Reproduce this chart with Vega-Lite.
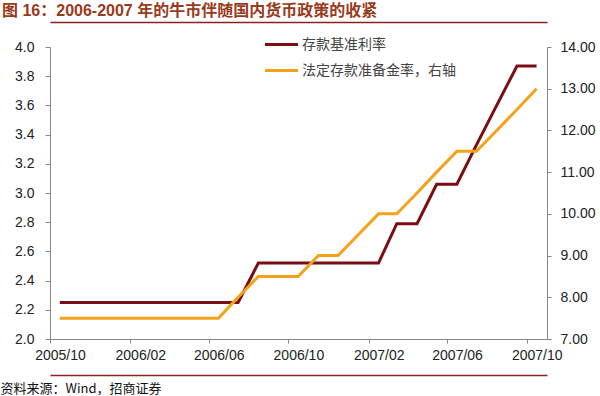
{
  "$schema": "https://vega.github.io/schema/vega-lite/v6.json",
  "width": 497,
  "height": 292,
  "autosize": {"type": "none"},
  "padding": {"left": 50, "top": 47, "right": 53, "bottom": 57},
  "background": "#ffffff",
  "title": {
    "text": "图 16：2006-2007 年的牛市伴随国内货币政策的收紧",
    "anchor": "start",
    "frame": "group",
    "dx": -48,
    "offset": 3,
    "font": "Liberation Sans, Noto Sans CJK SC",
    "fontSize": 16,
    "fontWeight": "bold",
    "color": "#9A3A1C"
  },
  "config": {
    "view": {"stroke": null},
    "axis": {
      "labelFont": "Liberation Sans",
      "labelFontSize": 14,
      "labelColor": "#222222",
      "domainColor": "#878787",
      "tickColor": "#878787",
      "grid": false
    }
  },
  "data": {
    "values": [
      {"date": "2005-10-16", "rate": 2.25, "rrr": 7.5},
      {"date": "2005-11-16", "rate": 2.25, "rrr": 7.5},
      {"date": "2005-12-16", "rate": 2.25, "rrr": 7.5},
      {"date": "2006-01-16", "rate": 2.25, "rrr": 7.5},
      {"date": "2006-02-16", "rate": 2.25, "rrr": 7.5},
      {"date": "2006-03-16", "rate": 2.25, "rrr": 7.5},
      {"date": "2006-04-16", "rate": 2.25, "rrr": 7.5},
      {"date": "2006-05-16", "rate": 2.25, "rrr": 7.5},
      {"date": "2006-06-16", "rate": 2.25, "rrr": 7.5},
      {"date": "2006-07-16", "rate": 2.25, "rrr": 8.0},
      {"date": "2006-08-16", "rate": 2.52, "rrr": 8.5},
      {"date": "2006-09-16", "rate": 2.52, "rrr": 8.5},
      {"date": "2006-10-16", "rate": 2.52, "rrr": 8.5},
      {"date": "2006-11-16", "rate": 2.52, "rrr": 9.0},
      {"date": "2006-12-16", "rate": 2.52, "rrr": 9.0},
      {"date": "2007-01-16", "rate": 2.52, "rrr": 9.5},
      {"date": "2007-02-16", "rate": 2.52, "rrr": 10.0},
      {"date": "2007-03-16", "rate": 2.79, "rrr": 10.0},
      {"date": "2007-04-16", "rate": 2.79, "rrr": 10.5},
      {"date": "2007-05-16", "rate": 3.06, "rrr": 11.0},
      {"date": "2007-06-16", "rate": 3.06, "rrr": 11.5},
      {"date": "2007-07-16", "rate": 3.33, "rrr": 11.5},
      {"date": "2007-08-16", "rate": 3.60, "rrr": 12.0},
      {"date": "2007-09-16", "rate": 3.87, "rrr": 12.5},
      {"date": "2007-10-16", "rate": 3.87, "rrr": 13.0}
    ]
  },
  "layer": [
    {
      "mark": {"type": "line", "strokeWidth": 3},
      "encoding": {
        "x": {
          "field": "date",
          "type": "temporal",
          "scale": {
            "type": "utc",
            "domain": [
              {"year": 2005, "month": 10, "date": 1, "utc": true},
              {"year": 2007, "month": 11, "date": 1, "utc": true}
            ]
          },
          "axis": {
            "orient": "bottom",
            "title": null,
            "values": [
              {"year": 2005, "month": 10, "date": 1, "utc": true},
              {"year": 2006, "month": 2, "date": 1, "utc": true},
              {"year": 2006, "month": 6, "date": 1, "utc": true},
              {"year": 2006, "month": 10, "date": 1, "utc": true},
              {"year": 2007, "month": 2, "date": 1, "utc": true},
              {"year": 2007, "month": 6, "date": 1, "utc": true},
              {"year": 2007, "month": 10, "date": 1, "utc": true}
            ],
            "labelExpr": "utcFormat(datum.value, '%Y/%m')",
            "tickSize": 4,
            "labelPadding": 5,
            "labelOffset": 10,
            "labelFlush": false,
            "labelOverlap": false
          }
        },
        "y": {
          "field": "rate",
          "type": "quantitative",
          "scale": {"domain": [2, 4], "nice": false, "zero": false},
          "axis": {
            "orient": "left",
            "title": null,
            "values": [2, 2.2, 2.4, 2.6, 2.8, 3, 3.2, 3.4, 3.6, 3.8, 4],
            "format": ".1f",
            "tickSize": 5,
            "labelPadding": 11
          }
        },
        "color": {
          "datum": "存款基准利率",
          "type": "nominal",
          "scale": {
            "domain": ["存款基准利率", "法定存款准备金率，右轴"],
            "range": ["#7B0E12", "#F5A21B"]
          },
          "legend": {
            "orient": "none",
            "legendX": 224,
            "legendY": -10,
            "direction": "vertical",
            "title": null,
            "padding": 0,
            "symbolType": "M-2.75,0H2.75",
            "symbolSize": 144,
            "symbolStrokeWidth": 3,
            "labelOffset": 13,
            "labelFont": "Noto Sans CJK SC",
            "labelFontSize": 14,
            "labelColor": "#444444",
            "rowPadding": 11
          }
        }
      }
    },
    {
      "mark": {"type": "line", "strokeWidth": 3},
      "encoding": {
        "x": {
          "field": "date",
          "type": "temporal",
          "axis": {
            "orient": "top",
            "title": null,
            "offset": 25,
            "labels": false,
            "ticks": false,
            "domainColor": "#8B2323",
            "domainWidth": 1.5
          }
        },
        "y": {
          "field": "rrr",
          "type": "quantitative",
          "scale": {"domain": [7, 14], "nice": false, "zero": false},
          "axis": {
            "orient": "right",
            "title": null,
            "values": [7, 8, 9, 10, 11, 12, 13, 14],
            "format": ".2f",
            "tickSize": 4,
            "labelPadding": 9
          }
        },
        "color": {"datum": "法定存款准备金率，右轴", "type": "nominal"}
      }
    },
    {
      "mark": {"type": "line", "strokeWidth": 3, "opacity": 0},
      "encoding": {
        "x": {
          "field": "date",
          "type": "temporal",
          "axis": {
            "orient": "bottom",
            "offset": 36,
            "labels": false,
            "ticks": false,
            "domainColor": "#8B2323",
            "domainWidth": 1.5,
            "title": "资料来源：Wind，招商证券",
            "titleX": -50,
            "titleY": 17,
            "titleAlign": "left",
            "titleBaseline": "alphabetic",
            "titleFont": "Noto Sans CJK SC",
            "titleFontSize": 13,
            "titleFontWeight": "normal",
            "titleColor": "#111111"
          }
        },
        "y": {
          "field": "rate",
          "type": "quantitative",
          "scale": {"domain": [2, 4], "nice": false, "zero": false},
          "axis": null
        }
      }
    }
  ],
  "resolve": {
    "scale": {"y": "independent"},
    "axis": {"x": "independent", "y": "independent"}
  }
}
